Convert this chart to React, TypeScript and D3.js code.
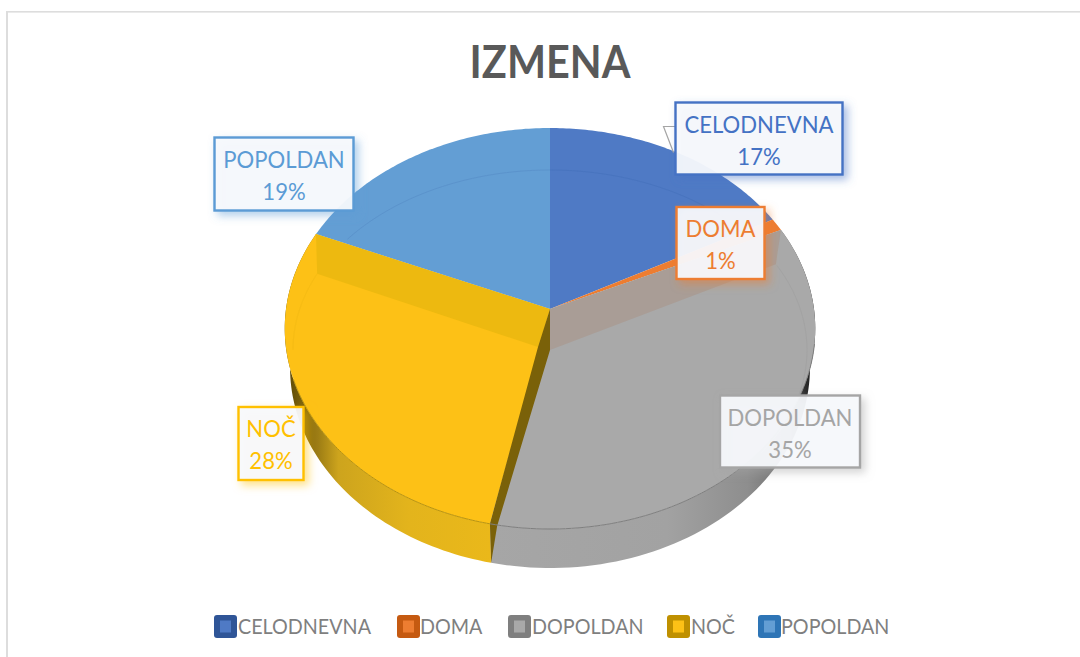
import React from "react";
import * as d3 from "d3";

const categories = ["CELODNEVNA", "DOMA", "DOPOLDAN", "NOČ", "POPOLDAN"];
const shares = [17.2, 1.0, 35.1, 28.1, 18.6];
const percentLabels = ["17%", "1%", "35%", "28%", "19%"];
const faceColors = ["#4F7AC5", "#ED7D31", "#A9A9A9", "#FDC116", "#639ED4"];
const accentColors = ["#4472C4", "#ED7D31", "#A5A5A5", "#FFC000", "#5B9BD5"];
const legendOuter = ["#2F5597", "#C55A11", "#7F7F7F", "#BF9000", "#2E75B6"];
const legendTextX = [238, 420, 532, 691, 781];
const legendSwatchX = [214, 397, 508, 667, 758];
const labelBoxes = [
  { x: 675.5, y: 102.5, w: 167, h: 72 },
  { x: 676.5, y: 207, w: 88, h: 72 },
  { x: 720, y: 395.5, w: 140, h: 72 },
  { x: 238.5, y: 407, w: 65, h: 73 },
  { x: 214.5, y: 137.5, w: 139, h: 73 },
];

const FONT = "Lato, 'Open Sans', sans-serif";
const NARROW = 0.94;
const CX = 550;
const APEX_Y = 309;
const RX = 264;
const RY = 198.6;
const K = 0.0973;
const DEPTH = 39;
const INNER = { cy: 350, rx: 257, ry: 180 };

type P = [number, number];
const outer = (a: number, s = 1, dy = 0): P => {
  const u = Math.sin(a);
  const v = Math.cos(a);
  const d = 1 + K * v;
  return [CX + (s * RX * u) / d, APEX_Y + dy - (RY * v) / d];
};
const inner = (a: number): P => [
  CX + INNER.rx * Math.sin(a),
  INNER.cy - INNER.ry * Math.cos(a),
];
const path = d3.line<P>();
const sweep = (a0: number, a1: number, f: (a: number) => P): P[] =>
  d3.range(0, 81).map((i) => f(a0 + ((a1 - a0) * i) / 80));
const deg = (d: number) => (d * Math.PI) / 180;

export default function App() {
  const arcs = d3
    .pie<number>()
    .sort(null)
    .startAngle(0)
    .endAngle(2 * Math.PI)(shares);
  const apex: P = [CX, APEX_Y];
  const innerApex: P = [CX, INNER.cy];
  const yellowApex: P = [CX - 12, INNER.cy - 3];
  const dopEnd = arcs[2].endAngle;
  const nocEnd = arcs[3].endAngle;
  const domaEnd = arcs[1].endAngle;

  const sideFill = ["none", "none", "url(#greySide)", "url(#yellowSide)", "none"];

  return (
    <svg
      width={1080}
      height={657}
      style={{ position: "fixed", left: 0, top: 0, background: "#fff" }}
      fontFamily={FONT}
    >
      <defs>
        <linearGradient id="yellowSide" gradientUnits="userSpaceOnUse" x1={288} x2={490} y1={0} y2={0}>
          <stop offset="0" stopColor="#5E4A06" />
          <stop offset="0.12" stopColor="#8F7212" />
          <stop offset="0.25" stopColor="#CDA41D" />
          <stop offset="0.6" stopColor="#E3B41C" />
          <stop offset="1" stopColor="#EAB81A" />
        </linearGradient>
        <linearGradient id="greySide" gradientUnits="userSpaceOnUse" x1={490} x2={812} y1={0} y2={0}>
          <stop offset="0" stopColor="#A6A6A6" />
          <stop offset="0.55" stopColor="#A2A2A2" />
          <stop offset="0.8" stopColor="#8E8E8E" />
          <stop offset="0.92" stopColor="#6E6E6E" />
          <stop offset="0.98" stopColor="#2B2B2B" />
          <stop offset="1" stopColor="#1E1E1E" />
        </linearGradient>
        {accentColors.map((c, i) => (
          <filter key={c} id={`sh${i}`} x="-20%" y="-20%" width="150%" height="160%">
            <feDropShadow dx={4} dy={4} stdDeviation={4} floodColor={c} floodOpacity={0.5} />
          </filter>
        ))}
      </defs>

      <rect x={6} y={11} width={1074} height={1.6} fill="#DDDDDD" />
      <rect x={6} y={11} width={2} height={646} fill="#DDDDDD" />

      <text
        transform="translate(550,78) scale(0.92,1)"
        textAnchor="middle"
        fontSize={45}
        fontWeight={700}
        fill="#595959"
      >
        IZMENA
      </text>

      {/* side wall, bottom rim */}
      {arcs.map((a, i) =>
        sideFill[i] === "none" ? null : (
          <path
            key={`side${i}`}
            d={
              path([
                ...sweep(a.startAngle, a.endAngle, (t) => outer(t, 0.98, DEPTH)),
                ...sweep(a.endAngle, a.startAngle, (t) => outer(t)),
              ]) + "Z"
            }
            fill={sideFill[i]}
          />
        )
      )}

      {/* top faces */}
      {arcs.map((a, i) => (
        <path
          key={`face${i}`}
          d={path([apex, ...sweep(a.startAngle, a.endAngle, (t) => outer(t))]) + "Z"}
          fill={faceColors[i]}
        />
      ))}

      {/* bevel bands */}
      <path
        d={path([apex, outer(domaEnd), inner(domaEnd - deg(4)), innerApex]) + "Z"}
        fill="#A99D96"
      />
      <path
        d={path([apex, outer(nocEnd), inner(nocEnd + deg(2)), yellowApex]) + "Z"}
        fill="#EDB910"
      />

      {/* inner ghost ellipse */}
      <path
        d={path(sweep(deg(308), 2 * Math.PI, inner)) ?? ""}
        fill="none"
        stroke="#5B93CC"
        strokeWidth={1}
      />
      <path
        d={path(sweep(0, deg(50), inner)) ?? ""}
        fill="none"
        stroke="#4874BF"
        strokeWidth={1}
      />
      <path
        d={path(sweep(deg(62), deg(125), inner)) ?? ""}
        fill="none"
        stroke="#A3A3A3"
        strokeWidth={1}
      />
      <path
        d={path(sweep(deg(270), nocEnd + deg(2), inner)) ?? ""}
        fill="none"
        stroke="#F6BC14"
        strokeWidth={1}
      />

      {/* cut wall */}
      <path
        d={
          path([
            apex,
            yellowApex,
            outer(dopEnd),
            outer(dopEnd, 0.98, DEPTH),
            inner(dopEnd),
            innerApex,
          ]) + "Z"
        }
        fill="#7A6109"
      />

      {/* front rim lines */}
      <path
        d={path(sweep(deg(100), dopEnd, (t) => outer(t))) ?? ""}
        fill="none"
        stroke="#7F7F7F"
        strokeWidth={1}
      />
      <path
        d={path(sweep(dopEnd, deg(250), (t) => outer(t))) ?? ""}
        fill="none"
        stroke="#B8930F"
        strokeWidth={1}
      />

      {/* leader for first label */}
      <path
        d={path([
          [labelBoxes[0].x, labelBoxes[0].y + 24],
          [labelBoxes[0].x - 12, labelBoxes[0].y + 24],
          [labelBoxes[0].x - 2, labelBoxes[0].y + 50],
        ]) ?? ""}
        fill="#fff"
        stroke="#A5A5A5"
        strokeWidth={1.2}
      />

      {/* data labels */}
      {labelBoxes.map((b, i) => (
        <g key={categories[i]}>
          <rect
            x={b.x}
            y={b.y}
            width={b.w}
            height={b.h}
            fill="#F8FAFD"
            fillOpacity={0.93}
            stroke={accentColors[i]}
            strokeWidth={2.4}
            filter={`url(#sh${i})`}
          />
          <text
            transform={`translate(${b.x + b.w / 2},${b.y + 30}) scale(${NARROW},1)`}
            textAnchor="middle"
            fontSize={23.5}
            fill={accentColors[i]}
          >
            {categories[i]}
          </text>
          <text
            transform={`translate(${b.x + b.w / 2},${b.y + 62}) scale(${NARROW},1)`}
            textAnchor="middle"
            fontSize={23.5}
            fill={accentColors[i]}
          >
            {percentLabels[i]}
          </text>
        </g>
      ))}

      {/* legend */}
      {categories.map((c, i) => (
        <g key={`lg${c}`}>
          <rect x={legendSwatchX[i]} y={615} width={23} height={23} rx={3} fill={legendOuter[i]} />
          <rect x={legendSwatchX[i] + 6} y={620.5} width={11} height={12} fill={faceColors[i]} />
          <text
            transform={`translate(${legendTextX[i]},634) scale(${NARROW},1)`}
            fontSize={21}
            fill="#7F7F7F"
          >
            {c}
          </text>
        </g>
      ))}
    </svg>
  );
}
